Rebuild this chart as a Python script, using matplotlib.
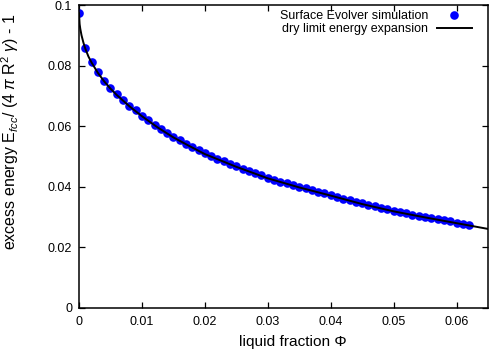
import matplotlib
matplotlib.use("Agg")
import matplotlib.pyplot as plt
from matplotlib.ticker import FuncFormatter

plt.rcParams['font.family'] = ['Liberation Sans', 'DejaVu Sans']
plt.rcParams['mathtext.fontset'] = 'custom'
plt.rcParams['mathtext.rm'] = 'Liberation Sans'
plt.rcParams['mathtext.it'] = 'Liberation Sans:italic'
plt.rcParams['mathtext.sf'] = 'Liberation Sans'

# Surface Evolver simulation points
sim_phi = [i / 1000 for i in range(63)]
sim_energy = [
    0.0975, 0.0858, 0.0812, 0.0778, 0.0750, 0.0726, 0.0705, 0.0686, 0.0668, 0.0652,
    0.0635, 0.0619, 0.0604, 0.0590, 0.0577, 0.0565, 0.0553, 0.0542, 0.0531, 0.0520,
    0.0510, 0.0501, 0.0493, 0.0484, 0.0476, 0.0468, 0.0460, 0.0453, 0.0445, 0.0438,
    0.0430, 0.0423, 0.0417, 0.0411, 0.0406, 0.0400, 0.0395, 0.0389, 0.0384, 0.0378,
    0.0373, 0.0367, 0.0361, 0.0356, 0.0350, 0.0345, 0.0340, 0.0335, 0.0331, 0.0326,
    0.0321, 0.0317, 0.0312, 0.0308, 0.0304, 0.0301, 0.0297, 0.0293, 0.0289, 0.0286,
    0.0282, 0.0278, 0.0274,
]

# dry limit energy expansion curve
exp_phi = [0, 0.0001, 0.0002, 0.0004, 0.0007, 0.001, 0.0015, 0.002, 0.003, 0.004,
           0.005, 0.006, 0.008, 0.010, 0.0125, 0.015, 0.0175, 0.020, 0.025, 0.030,
           0.035, 0.040, 0.045, 0.050, 0.055, 0.060, 0.065]
exp_energy = [0.0973, 0.0937, 0.0922, 0.0900, 0.0876, 0.0856, 0.0830, 0.0810, 0.0776, 0.0748,
              0.0724, 0.0703, 0.0666, 0.0633, 0.0596, 0.0563, 0.0535, 0.0508, 0.0466, 0.0428,
              0.0398, 0.0371, 0.0343, 0.0319, 0.0299, 0.0280, 0.0261]

x_ticks = [0, 0.01, 0.02, 0.03, 0.04, 0.05, 0.06]
y_ticks = [0, 0.02, 0.04, 0.06, 0.08, 0.1]

W, H = 492, 356
AX_L, AX_R, AX_T, AX_B = 79, 488, 5, 308
fig = plt.figure(figsize=(W / 100, H / 100), dpi=100)
ax = fig.add_axes([AX_L / W, 1 - AX_B / H, (AX_R - AX_L) / W, (AX_B - AX_T) / H])
axw, axh = AX_R - AX_L, AX_B - AX_T

ax.plot(sim_phi, sim_energy, linestyle='none', marker='o', markersize=6.2,
        color='#0000ff', markeredgewidth=0, label='Surface Evolver simulation', zorder=2)
ax.plot(exp_phi, exp_energy, color='black', linewidth=1.4,
        label='dry limit energy expansion', zorder=3)

ax.set_xlim(0, 0.065)
ax.set_ylim(0, 0.1)
ax.set_xticks(x_ticks)
ax.set_yticks(y_ticks)
fmt = FuncFormatter(lambda v, p: ('%g' % round(v, 4)))
ax.xaxis.set_major_formatter(fmt)
ax.yaxis.set_major_formatter(fmt)
ax.tick_params(direction='in', length=4, width=0.9, top=True, right=True,
               labelsize=9, colors='black')
ax.tick_params(axis='x', pad=6)
ax.tick_params(axis='y', pad=5)
for s in ax.spines.values():
    s.set_linewidth(1.1)

ax.set_xlabel('liquid fraction Φ', fontsize=11)
ax.set_ylabel(r'excess energy E$_{fcc}$/ (4 $\pi$ R$^2$ $\gamma$) - 1', fontsize=10.5)

leg = ax.legend(loc='upper right', bbox_to_anchor=(0.973, 1.0), frameon=False,
                markerfirst=False, fontsize=9, handlelength=2.8, handletextpad=0.72,
                borderaxespad=0.0, labelspacing=0.1, numpoints=1)
for t in leg.get_texts():
    t.set_ha('right')

# size the axis titles to the extent they have in the reference
renderer = fig.canvas.get_renderer()
ylab = ax.yaxis.label
xlab = ax.xaxis.label
for _ in range(3):
    bb = ylab.get_window_extent(renderer)
    ylab.set_fontsize(ylab.get_fontsize() * 236 / bb.height)
    bb = xlab.get_window_extent(renderer)
    xlab.set_fontsize(xlab.get_fontsize() * 108 / bb.width)

ybb = ylab.get_window_extent(renderer)
yl_w = ybb.width
ax.yaxis.set_label_coords(-(AX_L - (10 + yl_w / 2)) / axw, (AX_B - 132) / axh)
xlab.set_va('center')
ax.xaxis.set_label_coords((292.5 - AX_L) / axw, -(342 - AX_B) / axh)

fig.savefig('out.png', dpi=100)
